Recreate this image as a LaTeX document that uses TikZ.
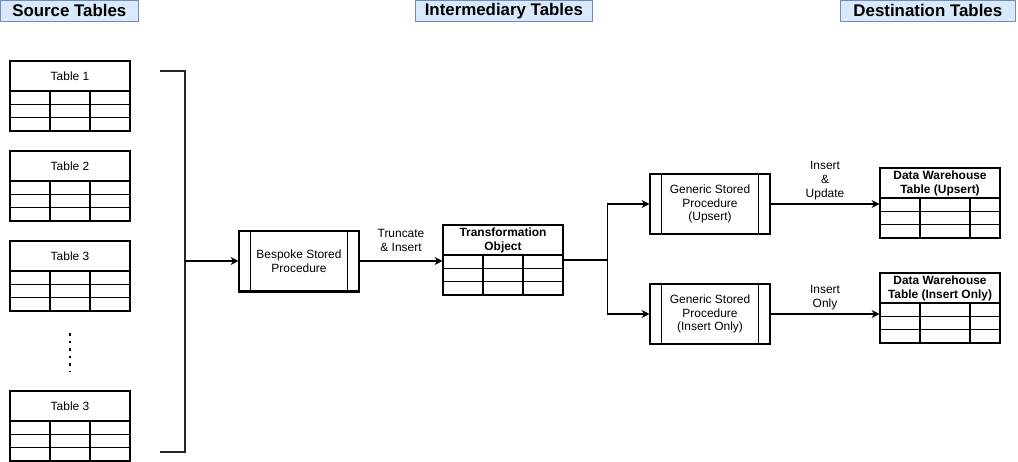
\documentclass[tikz,border=0pt]{standalone}
\usepackage{fontspec}
\setmainfont{Liberation Sans}
\usepackage{tikz}
\usetikzlibrary{positioning,arrows.meta,calc}
\definecolor{cHead}{HTML}{DAE8FC}
\definecolor{cHeadLine}{HTML}{6C8EBF}

\begin{document}
\begin{tikzpicture}[x=0.02cm,y=-0.02cm]
  \tikzset{
    hdr/.style={draw=cHeadLine, fill=cHead, anchor=north west, inner sep=0pt,
      minimum height=0.42cm, font=\fontsize{9.6}{11}\selectfont\bfseries},
    tblbox/.style={draw, line width=0.6pt, minimum width=2.4cm, minimum height=1.4cm, inner sep=0pt},
    tbltitle/.style={align=center, inner sep=0pt, font=\fontsize{6.8}{7.9}\selectfont},
    proc/.style={draw, line width=0.6pt, minimum width=2.4cm, minimum height=1.2cm,
      align=center, inner sep=0pt, font=\fontsize{6.8}{7.9}\selectfont},
    arr/.style={line width=0.6pt, -{Stealth[length=4.5pt,width=4.5pt]}},
    brk/.style={line width=1.2pt, black!85},
    elbl/.style={align=center, inner sep=1pt, font=\fontsize{6.8}{7.9}\selectfont},
  }
  \useasboundingbox (0,0) rectangle (1018,462);
  % column headings
  \node[hdr, minimum width=2.76cm] (hsrc) at (0,0) {Source Tables};
  \node[hdr, minimum width=3.54cm] (hint) at (415,0) {Intermediary Tables};
  \node[hdr, minimum width=3.5cm] (hdst) at (840,0) {Destination Tables};
  % tables: name / left / top / columns / title
  \foreach \nm/\tx/\ty/\ca/\cb/\ttl in {
      t1/10/61/40/80/{Table 1},
      t2/10/151/40/80/{Table 2},
      t3/10/241/40/80/{Table 3},
      t4/10/391/40/80/{Table 3},
      trf/443/225/40/80/{\textbf{Transformation}\\\textbf{Object}},
      dwu/880/168/40/90/{\textbf{Data Warehouse}\\\textbf{Table (Upsert)}},
      dwi/880/273/40/90/{\textbf{Data Warehouse}\\\textbf{Table (Insert Only)}}} {
    \begin{scope}[shift={(\tx,\ty)}]
      \node[tblbox] (\nm) at (60,35) {};
      \node[tbltitle] (\nm-title) at (60,15.5) {\ttl};
      \foreach \r in {30,43.3,56.7} \draw[line width=0.6pt] (0,\r) -- (120,\r);
      \foreach \c in {\ca,\cb} \draw[line width=0.6pt] (\c,30) -- (\c,70);
    \end{scope}
  }
  % more tables
  \draw[line width=1.6pt, dash pattern=on 1.6pt off 2.7pt] (70,333) -- (70,372);
  % bracket round the source tables
  \coordinate (brtop) at (160,71);
  \coordinate (brbot) at (160,452);
  \coordinate (brmid) at (185,261);
  \draw[brk] (brtop) -- ++(25,0) -- ++(0,381) -- (brbot);
  % stored procedures
  \node[proc] (bsp) at (299,261) {Bespoke Stored\\Procedure};
  \node[proc] (gup) at (710,204) {Generic Stored\\Procedure\\(Upsert)};
  \node[proc] (gin) at (710,314) {Generic Stored\\Procedure\\(Insert Only)};
  \draw[line width=1.2pt] (bsp.south west) -- (bsp.south east);
  \foreach \b in {bsp,gup,gin} {
    \draw[line width=0.6pt] ([xshift=0.24cm]\b.north west) -- ([xshift=0.24cm]\b.south west);
    \draw[line width=0.6pt] ([xshift=-0.24cm]\b.north east) -- ([xshift=-0.24cm]\b.south east);
  }
  % connectors
  \draw[arr] (brmid) -- (bsp.west);
  \draw[arr] (bsp.east) -- node[elbl, above=4pt] {Truncate\\\& Insert} (bsp.east -| trf.west);
  \coordinate (split) at ($(trf.east)+(44,0)$);
  \draw[arr] (trf.east) -- (split) |- (gup.west);
  \draw[arr] (trf.east) -- (split) |- (gin.west);
  \draw[arr] (gup.east) -- node[elbl, above=1pt] {Insert\\\&\\Update} (gup.east -| dwu.west);
  \draw[arr] (gin.east) -- node[elbl, above=1pt] {Insert\\Only} (gin.east -| dwi.west);
\end{tikzpicture}
\end{document}
